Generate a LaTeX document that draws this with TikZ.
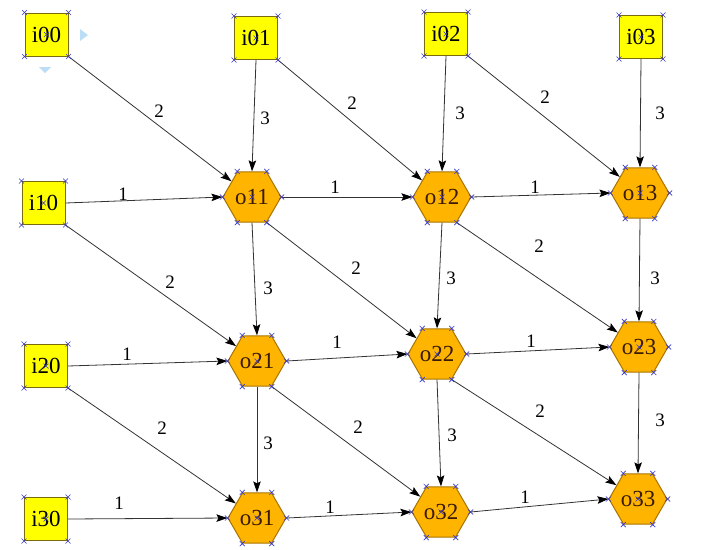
\documentclass[tikz,border=0pt]{standalone}
\usepackage{fontspec}
\setmainfont{Liberation Serif}
\usetikzlibrary{shapes.geometric,arrows.meta,calc}
\definecolor{sqfill}{HTML}{FFFF00}
\definecolor{sqborder}{HTML}{7A6A10}
\definecolor{hexfill}{HTML}{FFB400}
\definecolor{hexborder}{HTML}{A87400}
\definecolor{hextext}{HTML}{3A1A00}
\definecolor{xmark}{HTML}{3838C8}
\definecolor{edgecol}{HTML}{333333}
\definecolor{tri}{HTML}{BCDDF6}
\tikzset{
  inbox/.style={draw=sqborder, line width=1pt, fill=sqfill, minimum width=43pt, minimum height=43pt, inner sep=0pt, font=\fontsize{23}{25}\selectfont, text=black},
  hexnode/.style={regular polygon, regular polygon sides=6, draw=hexborder, line width=1pt, fill=hexfill, minimum size=58pt, inner sep=0pt, font=\fontsize{23}{25}\selectfont, text=hextext},
  edge/.style={draw=edgecol, line width=0.8pt, -{Stealth[length=11pt,width=7.5pt,inset=2pt,color=black]}},
  lbl/.style={font=\fontsize{19}{21}\selectfont, inner sep=0pt, text=black},
  xm/.style={draw=xmark, line width=0.6pt}
}
\newcommand{\xmark}[1]{\draw[xm] ($(#1)+(-2.5pt,-2.5pt)$) -- ($(#1)+(2.5pt,2.5pt)$) ($(#1)+(-2.5pt,2.5pt)$) -- ($(#1)+(2.5pt,-2.5pt)$);}
\begin{document}
\begin{tikzpicture}[x=1pt,y=-1pt]
\useasboundingbox (0,0) rectangle (704,549);
% input squares
\node[inbox] (i00) at (46.5,34.5) {i00};
\node[inbox] (i01) at (256,38) {i01};
\node[inbox] (i02) at (446,34) {i02};
\node[inbox] (i03) at (641,37) {i03};
\node[inbox] (i10) at (43.5,203) {i10};
\node[inbox] (i20) at (46,366) {i20};
\node[inbox] (i30) at (46,519) {i30};
% hexagons
\node[hexnode] (o11) at (252,197) {o11};
\node[hexnode] (o12) at (442,197) {o12};
\node[hexnode] (o13) at (640,193) {o13};
\node[hexnode] (o21) at (257,361) {o21};
\node[hexnode] (o22) at (437,354) {o22};
\node[hexnode] (o23) at (639,347) {o23};
\node[hexnode] (o31) at (257,518) {o31};
\node[hexnode] (o32) at (441,512) {o32};
\node[hexnode] (o33) at (638,499) {o33};
% light blue triangles
\fill[tri] (80,29) -- (88,35) -- (80,41) -- cycle;
\fill[tri] (39,67) -- (51,67) -- (45,73) -- cycle;
% edges from inputs
\draw[edge] (i00.south east) -- (o11);
\draw[edge] (i01.south) -- (o11.north);
\draw[edge] (i01.south east) -- (o12);
\draw[edge] (i02.south) -- (o12.north);
\draw[edge] (i02.south east) -- (o13);
\draw[edge] (i03.south) -- (o13.north);
\draw[edge] (i10.east) -- (o11.west);
\draw[edge] (i10.south east) -- (o21);
\draw[edge] (i20.east) -- (o21.west);
\draw[edge] (i20.south east) -- (o31);
\draw[edge] (i30.east) -- (o31.west);
% edges between hexagons
\draw[edge] (o11.east) -- (o12.west);
\draw[edge] (o12.east) -- (o13.west);
\draw[edge] (o21.east) -- (o22.west);
\draw[edge] (o22.east) -- (o23.west);
\draw[edge] (o31.east) -- (o32.west);
\draw[edge] (o32.east) -- (o33.west);
\draw[edge] (o11.south) -- (o21.north);
\draw[edge] (o12.south) -- (o22.north);
\draw[edge] (o13.south) -- (o23.north);
\draw[edge] (o21.south) -- (o31.north);
\draw[edge] (o22.south) -- (o32.north);
\draw[edge] (o23.south) -- (o33.north);
\draw[edge] (o11.-60) -- (o22);
\draw[edge] (o12.-60) -- (o23);
\draw[edge] (o21.-60) -- (o32);
\draw[edge] (o22.-60) -- (o33);
% weights
\node[lbl] (w1) at (159,111) {2};
\node[lbl] (w2) at (265,118) {3};
\node[lbl] (w3) at (352,103) {2};
\node[lbl] (w4) at (460,113) {3};
\node[lbl] (w5) at (545,97) {2};
\node[lbl] (w6) at (660,113) {3};
\node[lbl] (w7) at (123,194) {1};
\node[lbl] (w8) at (335,187) {1};
\node[lbl] (w9) at (535,187) {1};
\node[lbl] (w10) at (170,282) {2};
\node[lbl] (w11) at (268,288) {3};
\node[lbl] (w12) at (356,268) {2};
\node[lbl] (w13) at (451,278) {3};
\node[lbl] (w14) at (539,246) {2};
\node[lbl] (w15) at (655,278) {3};
\node[lbl] (w16) at (127,354) {1};
\node[lbl] (w17) at (337,342) {1};
\node[lbl] (w18) at (531,341) {1};
\node[lbl] (w19) at (162,428) {2};
\node[lbl] (w20) at (268,443) {3};
\node[lbl] (w21) at (358,427) {2};
\node[lbl] (w22) at (452,435) {3};
\node[lbl] (w23) at (540,411) {2};
\node[lbl] (w24) at (660,420) {3};
\node[lbl] (w25) at (119,503) {1};
\node[lbl] (w26) at (330,507) {1};
\node[lbl] (w27) at (525,497) {1};
% selection crosses
\foreach \n in {i00,i01,i02,i03,i10,i20,i30}{
  \foreach \a in {north east,north west,south east,south west,center}{
    \xmark{\n.\a}
  }
}
\foreach \n in {o11,o12,o13,o21,o22,o23,o31,o32,o33}{
  \foreach \a in {0,60,120,180,240,300}{
    \xmark{\n.\a}
  }
  \xmark{\n.center}
}
\end{tikzpicture}
\end{document}
